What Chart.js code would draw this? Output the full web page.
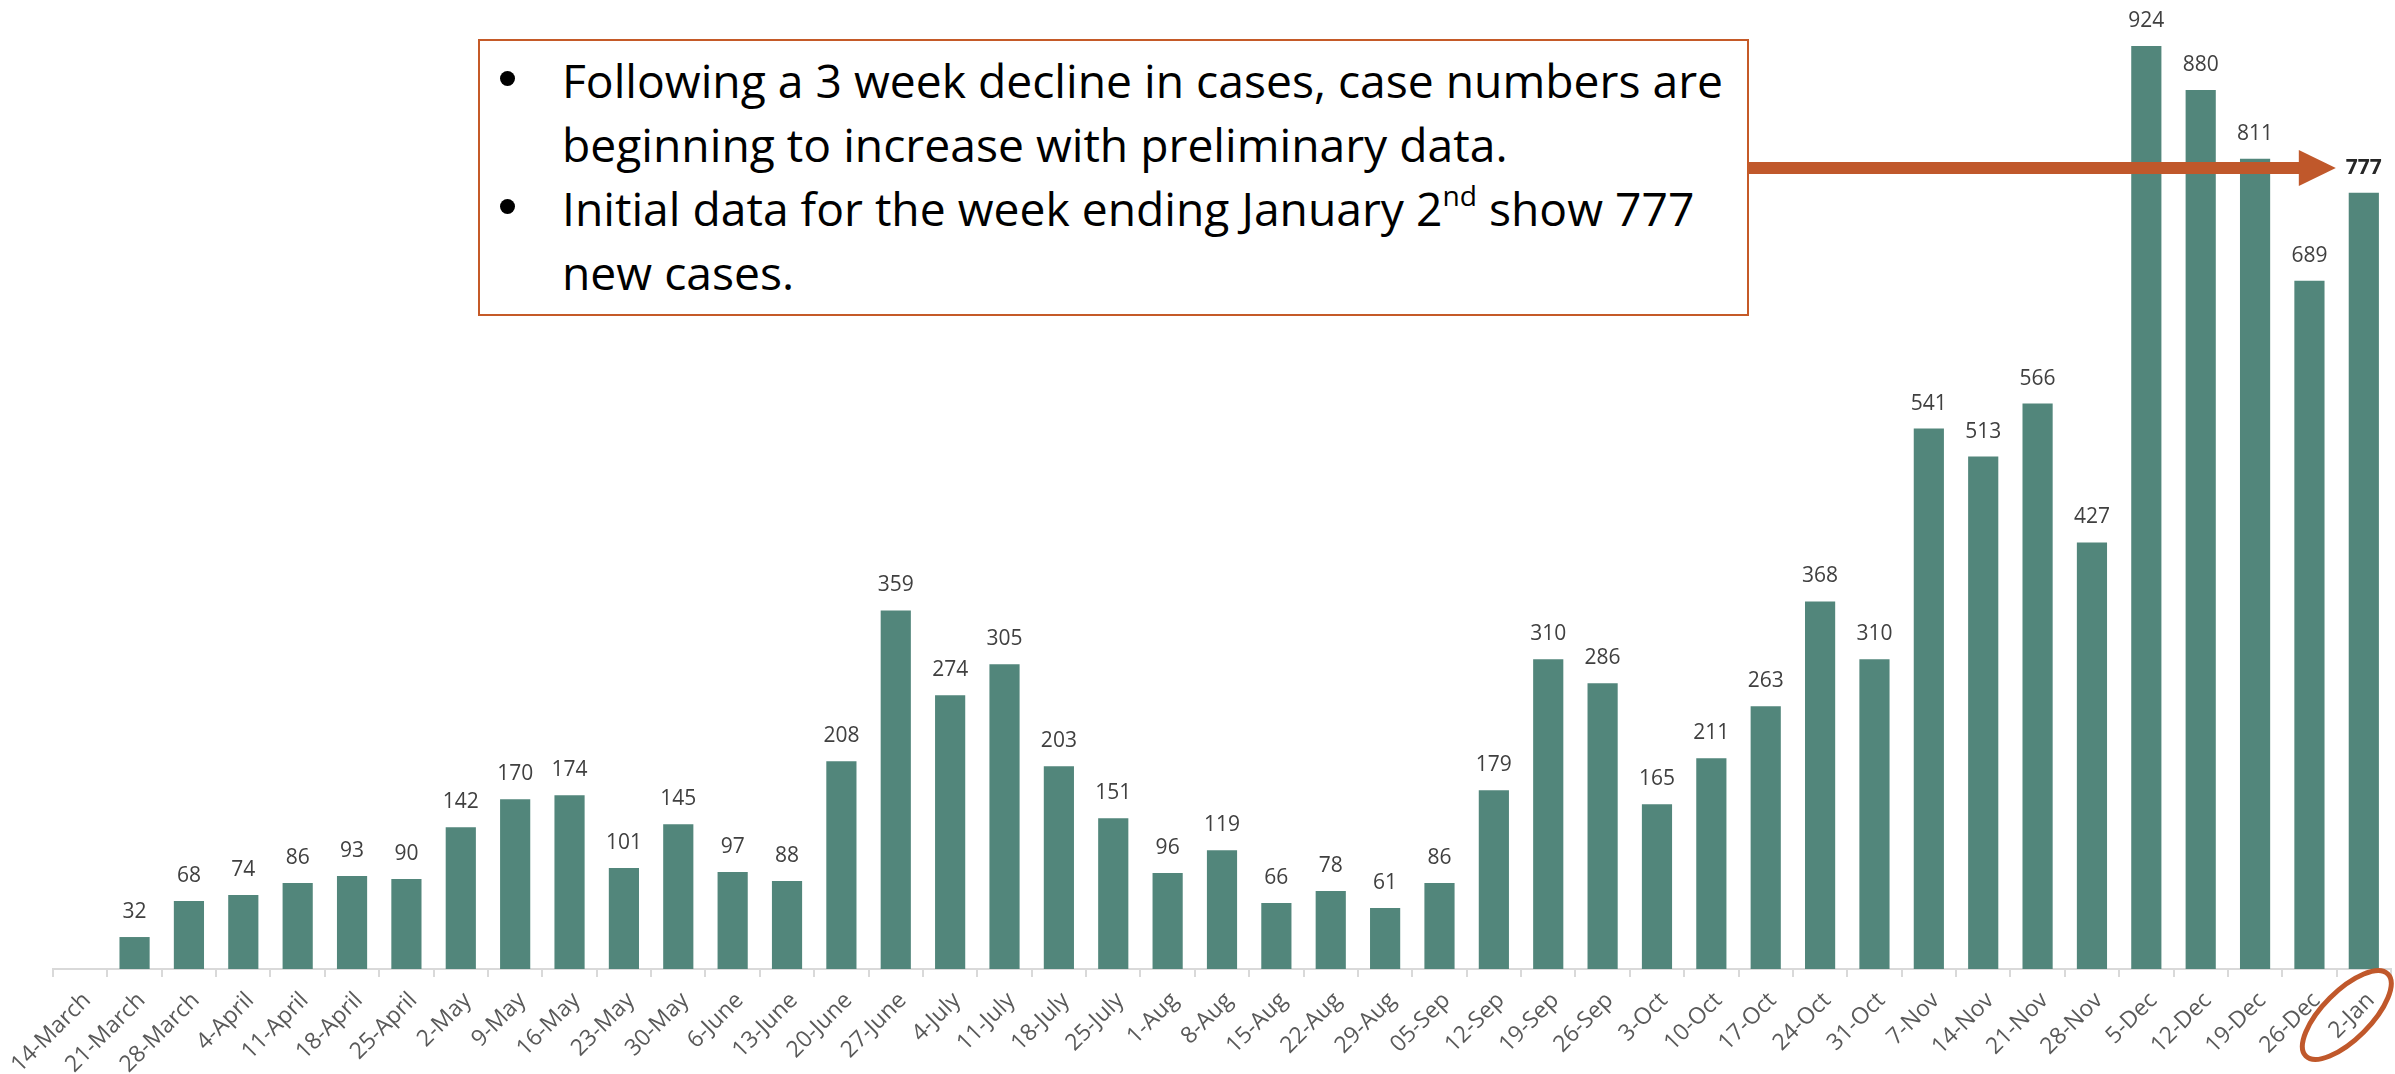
<!DOCTYPE html>
<html>
<head>
<meta charset="utf-8">
<script src="https://cdn.jsdelivr.net/npm/chart.js@4.4.1/dist/chart.umd.min.js"></script>
<style>
  html, body { margin: 0; padding: 0; background: #fff; overflow: hidden; }
  #wrap { position: relative; width: 2395px; height: 1074px; }
  #nota {
    position: absolute; left: 478px; top: 39px; width: 1271px; height: 277px;
    box-sizing: border-box; border: 2px solid #C55A28; background: #fff;
    font-family: 'Open Sans', sans-serif; color: #000;
  }
  #nota .txt { position: absolute; left: 82px; top: 7px; transform-origin: 0 0; white-space: nowrap; }
  #nota .lin { font-size: 46px; line-height: 64px; height: 64px; }
  #nota .bol { position: absolute; left: 20px; width: 15px; height: 15px; border-radius: 50%; background: #000; }
  #nota sup { font-size: 28px; line-height: 0; vertical-align: 20px; }
</style>
</head>
<body>
<div id="wrap">
  <canvas id="casosChart"></canvas>
  <div id="nota">
    <div class="bol" style="top: 30px"></div>
    <div class="bol" style="top: 158px"></div>
    <div class="txt" id="notaTxt">
      <div class="lin"><span id="lin1">Following a 3 week decline in cases, case numbers are</span></div>
      <div class="lin">beginning to increase with preliminary data.</div>
      <div class="lin">Initial data for the week ending January 2<sup>nd</sup> show 777</div>
      <div class="lin">new cases.</div>
    </div>
  </div>
</div>
<script>
// semanas (fim da semana)
const semanas = ['14-March', '21-March', '28-March', '4-April', '11-April', '18-April', '25-April',
  '2-May', '9-May', '16-May', '23-May', '30-May', '6-June', '13-June', '20-June', '27-June',
  '4-July', '11-July', '18-July', '25-July', '1-Aug', '8-Aug', '15-Aug', '22-Aug', '29-Aug',
  '05-Sep', '12-Sep', '19-Sep', '26-Sep', '3-Oct', '10-Oct', '17-Oct', '24-Oct', '31-Oct',
  '7-Nov', '14-Nov', '21-Nov', '28-Nov', '5-Dec', '12-Dec', '19-Dec', '26-Dec', '2-Jan'];

// casos novos por semana
const casosNovos = [null, 32, 68, 74, 86, 93, 90,
  142, 170, 174, 101, 145, 97, 88, 208, 359,
  274, 305, 203, 151, 96, 119, 66, 78, 61,
  86, 179, 310, 286, 165, 211, 263, 368, 310,
  541, 513, 566, 427, 924, 880, 811, 689, 777];

const corBarra = '#52867B';
const corLaranja = '#C0582B';

// texto da caixa: ajusta largura pra caber igual ao original
const txt = document.getElementById('notaTxt');
const w1 = document.getElementById('lin1').getBoundingClientRect().width;
txt.style.transform = 'scaleX(' + (1161 / w1) + ')';

// rotulos em cima das barras
const rotulosPlugin = {
  id: 'rotulos',
  afterDatasetsDraw(chart) {
    const ctx = chart.ctx;
    const meta = chart.getDatasetMeta(0);
    ctx.save();
    ctx.textAlign = 'center';
    ctx.textBaseline = 'alphabetic';
    meta.data.forEach((bar, i) => {
      const v = casosNovos[i];
      if (v == null) return;
      const ultimo = i === casosNovos.length - 1;
      ctx.font = (ultimo ? 'bold ' : '') + '21px "Open Sans"';
      ctx.fillStyle = ultimo ? '#262626' : '#404040';
      ctx.fillText(String(v), bar.x, bar.y - 19);
    });
    ctx.restore();
  }
};

// seta e elipse do destaque
const destaquePlugin = {
  id: 'destaque',
  afterDraw(chart) {
    const ctx = chart.ctx;
    const x = chart.scales.x;
    const ult = casosNovos.length - 1;
    const pontaX = x.getPixelForValue(ult) - 28;
    const y = 168;
    ctx.save();
    ctx.fillStyle = corLaranja;
    ctx.fillRect(1749, y - 6, pontaX - 36 - 1749, 12);
    ctx.beginPath();
    ctx.moveTo(pontaX - 37, y - 18);
    ctx.lineTo(pontaX, y);
    ctx.lineTo(pontaX - 37, y + 18);
    ctx.closePath();
    ctx.fill();

    ctx.strokeStyle = corLaranja;
    ctx.lineWidth = 5;
    ctx.beginPath();
    ctx.ellipse(x.getPixelForValue(ult) - 17, 1015, 58, 24, -Math.PI / 4, 0, Math.PI * 2);
    ctx.stroke();
    ctx.restore();
  }
};

const ctx = document.getElementById('casosChart').getContext('2d');
new Chart(ctx, {
  type: 'bar',
  data: {
    labels: semanas,
    datasets: [{
      label: 'New cases',
      data: casosNovos,
      backgroundColor: corBarra,
      barPercentage: 0.555,
      categoryPercentage: 1
    }]
  },
  options: {
    responsive: true,
    maintainAspectRatio: false,
    animation: false,
    layout: { padding: { left: 53, right: 4, top: 20, bottom: 0 } },
    plugins: {
      legend: { display: false },
      tooltip: { enabled: false }
    },
    scales: {
      y: { display: false, min: 0, max: 950 },
      x: {
        // altura fixa do eixo pra base ficar no lugar certo
        afterFit(s) { s.height = 105; s.paddingLeft = 0; s.paddingRight = 0; },
        border: { color: '#D9D9D9', width: 2 },
        grid: { display: true, drawOnChartArea: false, tickLength: 8, color: '#D9D9D9', lineWidth: 2, offset: true },
        ticks: {
          autoSkip: false, maxRotation: 45, minRotation: 45, padding: 10, labelOffset: 7,
          color: '#595959',
          font: { family: "'Open Sans'", size: 23 }
        }
      }
    }
  },
  plugins: [rotulosPlugin, destaquePlugin]
});
</script>
</body>
</html>
